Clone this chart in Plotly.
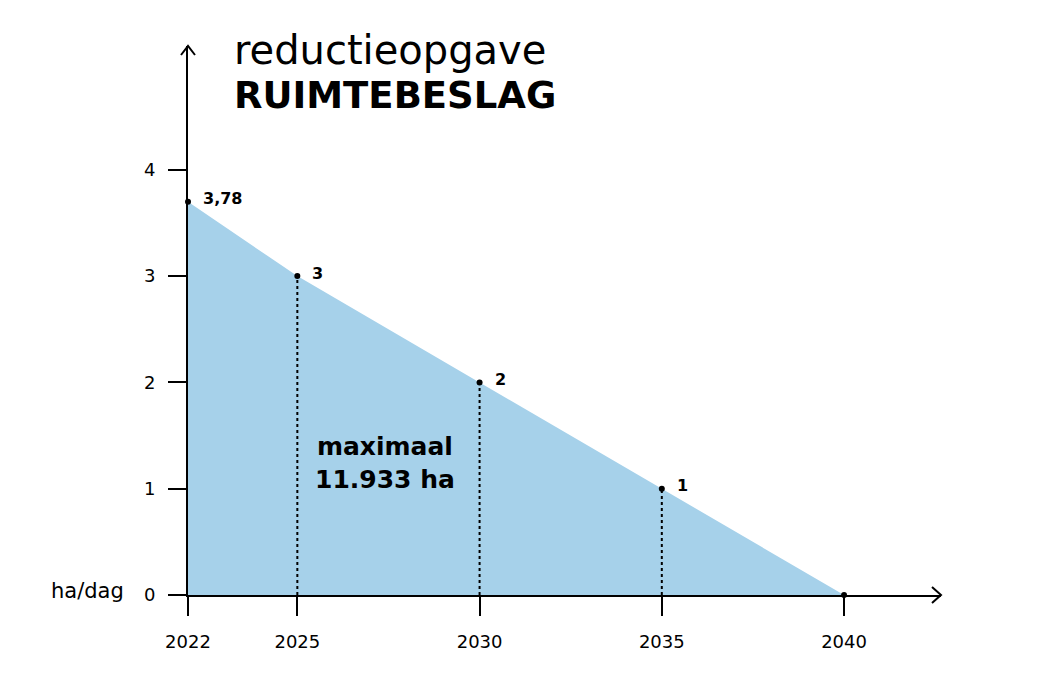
import plotly.graph_objects as go

years = [2022, 2025, 2030, 2035, 2040]
values = [3.7, 3, 2, 1, 0]
point_labels = ["3,78", "3", "2", "1", ""]
x_ticks = [2022, 2025, 2030, 2035, 2040]
y_ticks = [0, 1, 2, 3, 4]
title_line1 = "reductieopgave"
title_line2 = "RUIMTEBESLAG"
area_label = "maximaal<br>11.933 ha"
unit_label = "ha/dag"

FONT = "DejaVu Sans"
BLUE = "#a6d1ea"

fig = go.Figure()

# filled area
fig.add_trace(go.Scatter(x=years, y=values, mode="lines", fill="tozeroy",
                         fillcolor=BLUE, line=dict(width=0, color=BLUE),
                         hoverinfo="skip", showlegend=False))

# dotted verticals
for x, y in zip(years[1:4], values[1:4]):
    fig.add_trace(go.Scatter(x=[x, x], y=[0, y], mode="lines",
                             line=dict(color="black", width=2, dash="dot"),
                             hoverinfo="skip", showlegend=False))

# points with labels
fig.add_trace(go.Scatter(x=years, y=values, mode="markers",
                         marker=dict(color="black", size=6),
                         showlegend=False, cliponaxis=False))
for x, y, t in zip(years, values, point_labels):
    if t:
        fig.add_annotation(x=x, y=y, text="<b>" + t + "</b>", showarrow=False,
                           xanchor="left", yanchor="middle", xshift=13, yshift=3,
                           font=dict(family=FONT, size=16, color="black"))

fig.add_annotation(x=2027.4, y=1.24, text="<b>" + area_label + "</b>", showarrow=False,
                   xanchor="center", yanchor="middle",
                   font=dict(family=FONT, size=25, color="black"))

fig.add_annotation(xref="paper", yref="y", x=0, y=0, text=unit_label, showarrow=False,
                   xanchor="right", yanchor="middle", xshift=-62, yshift=4,
                   font=dict(family=FONT, size=21, color="black"))

fig.add_annotation(xref="paper", yref="paper", x=0, y=1, text=title_line1, showarrow=False,
                   xanchor="left", yanchor="middle", xshift=44, yshift=-4,
                   font=dict(family=FONT, size=40, color="black"))
fig.add_annotation(xref="paper", yref="paper", x=0, y=1, text="<b>" + title_line2 + "</b>",
                   showarrow=False, xanchor="left", yanchor="middle", xshift=44, yshift=-49,
                   font=dict(family=FONT, size=37, color="black"))

# arrowheads (paper refs so they are not clipped)
fig.add_shape(type="path", xref="paper", yref="paper", xsizemode="pixel", ysizemode="pixel",
              xanchor=0, yanchor=1, path="M -7,-9 L 0,0 L 7,-9",
              line=dict(color="black", width=2))
fig.add_shape(type="path", xref="paper", yref="paper", xsizemode="pixel", ysizemode="pixel",
              xanchor=1, yanchor=0, path="M -9,-8 L 0,0 L -9,8",
              line=dict(color="black", width=2))

fig.update_xaxes(range=[2022, 2042.66], tickvals=x_ticks, ticks="outside", ticklen=19,
                 tickwidth=2, tickcolor="black", showline=True, linecolor="black",
                 linewidth=2, showgrid=False, zeroline=False, automargin=False,
                 tickfont=dict(family=FONT, size=18, color="black"),
                 ticklabelstandoff=10)
fig.update_yaxes(range=[0, 5.165], tickvals=y_ticks, ticks="outside", ticklen=18,
                 tickwidth=2, tickcolor="black", showline=True, linecolor="black",
                 linewidth=2, showgrid=False, zeroline=False, automargin=False,
                 tickfont=dict(family=FONT, size=18, color="black"),
                 ticklabelstandoff=9)

fig.update_layout(width=1048, height=695, plot_bgcolor="white", paper_bgcolor="white",
                  margin=dict(l=180, r=115, t=38, b=108), showlegend=False)

fig.write_html("out.html")
